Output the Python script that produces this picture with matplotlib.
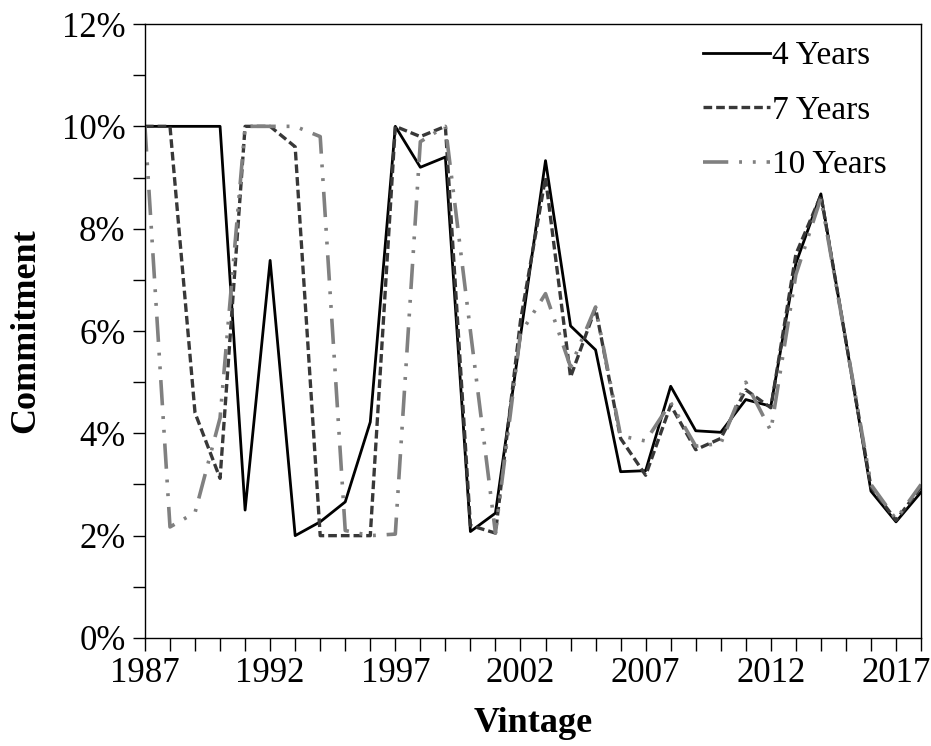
"""
Commitment by vintage for three fund lives (4, 7 and 10 years).

Draws the three commitment paths on one set of axes and saves out.png.
"""

import matplotlib

matplotlib.use("Agg")
import matplotlib.pyplot as plt
from matplotlib.ticker import FuncFormatter, MultipleLocator

OUT_PNG = "out.png"

years = list(range(1987, 2019))

# Commitment in percent.
commit_4y = [10.0, 10.0, 10.0, 10.0, 2.5, 7.38, 2.0, 2.27, 2.66, 4.22,
             10.0, 9.2, 9.4, 2.08, 2.44, 5.9, 9.33, 6.1, 5.63, 3.25,
             3.27, 4.92, 4.05, 4.02, 4.66, 4.53, 7.32, 8.68, 5.8, 2.87,
             2.27, 2.85]
commit_7y = [10.0, 10.0, 4.4, 3.12, 10.0, 10.0, 9.6, 2.0, 2.0, 2.0,
             10.0, 9.8, 10.0, 2.2, 2.05, 6.2, 9.0, 5.1, 6.45, 3.9,
             3.18, 4.55, 3.68, 3.9, 4.85, 4.5, 7.5, 8.65, 5.8, 2.95,
             2.3, 2.95]
commit_10y = [10.0, 2.17, 2.45, 4.3, 10.0, 10.0, 10.0, 9.8, 2.1, 2.0,
              2.03, 9.7, 10.0, 6.0, 2.05, 5.95, 6.73, 5.3, 6.47, 3.95,
              3.85, 4.6, 3.75, 3.8, 5.0, 4.05, 7.1, 8.6, 5.8, 3.0,
              2.32, 3.0]

series_labels = ["4 Years", "7 Years", "10 Years"]
x_tick_years = [1987, 1992, 1997, 2002, 2007, 2012, 2017]


def main() -> None:
    plt.rcParams["font.family"] = ["Liberation Serif", "DejaVu Serif"]

    fig = plt.figure(figsize=(9.31, 7.46), dpi=100)
    ax = fig.add_axes([0.1557, 0.1448, 0.8336, 0.823])

    ax.plot(years, commit_4y, color="black", lw=2.0,
            label=series_labels[0])
    ax.plot(years, commit_7y, color="#383838", lw=2.4,
            linestyle=(0, (2.6, 1.2)), label=series_labels[1])
    ax.plot(years, commit_10y, color="#808080", lw=2.6,
            linestyle=(0, (7, 3, 0.8, 3, 0.8, 3)), label=series_labels[2])

    ax.set_xlim(1987, 2018)
    ax.set_ylim(0, 12)

    ax.set_xticks(x_tick_years)
    ax.xaxis.set_minor_locator(MultipleLocator(1))
    ax.yaxis.set_major_locator(MultipleLocator(2))
    ax.yaxis.set_minor_locator(MultipleLocator(1))
    ax.yaxis.set_major_formatter(FuncFormatter(lambda v, _: f"{v:.0f}%"))

    ax.tick_params(which="both", direction="out", length=9, width=1,
                   labelsize=25, color="black")
    ax.tick_params(axis="x", pad=5)
    ax.tick_params(axis="y", pad=5)

    for spine in ax.spines.values():
        spine.set_linewidth(1.0)
        spine.set_color("black")

    ax.set_xlabel("Vintage", fontsize=26, fontweight="bold", labelpad=12)
    ax.set_ylabel("Commitment", fontsize=26, fontweight="bold", labelpad=14)

    ax.legend(loc="upper right", bbox_to_anchor=(0.977, 1.0), frameon=False,
              fontsize=24, handlelength=2.0, handletextpad=0.05,
              labelspacing=0.72, borderaxespad=0.1)

    fig.savefig(OUT_PNG, dpi=100)
    plt.close(fig)


if __name__ == "__main__":
    main()
